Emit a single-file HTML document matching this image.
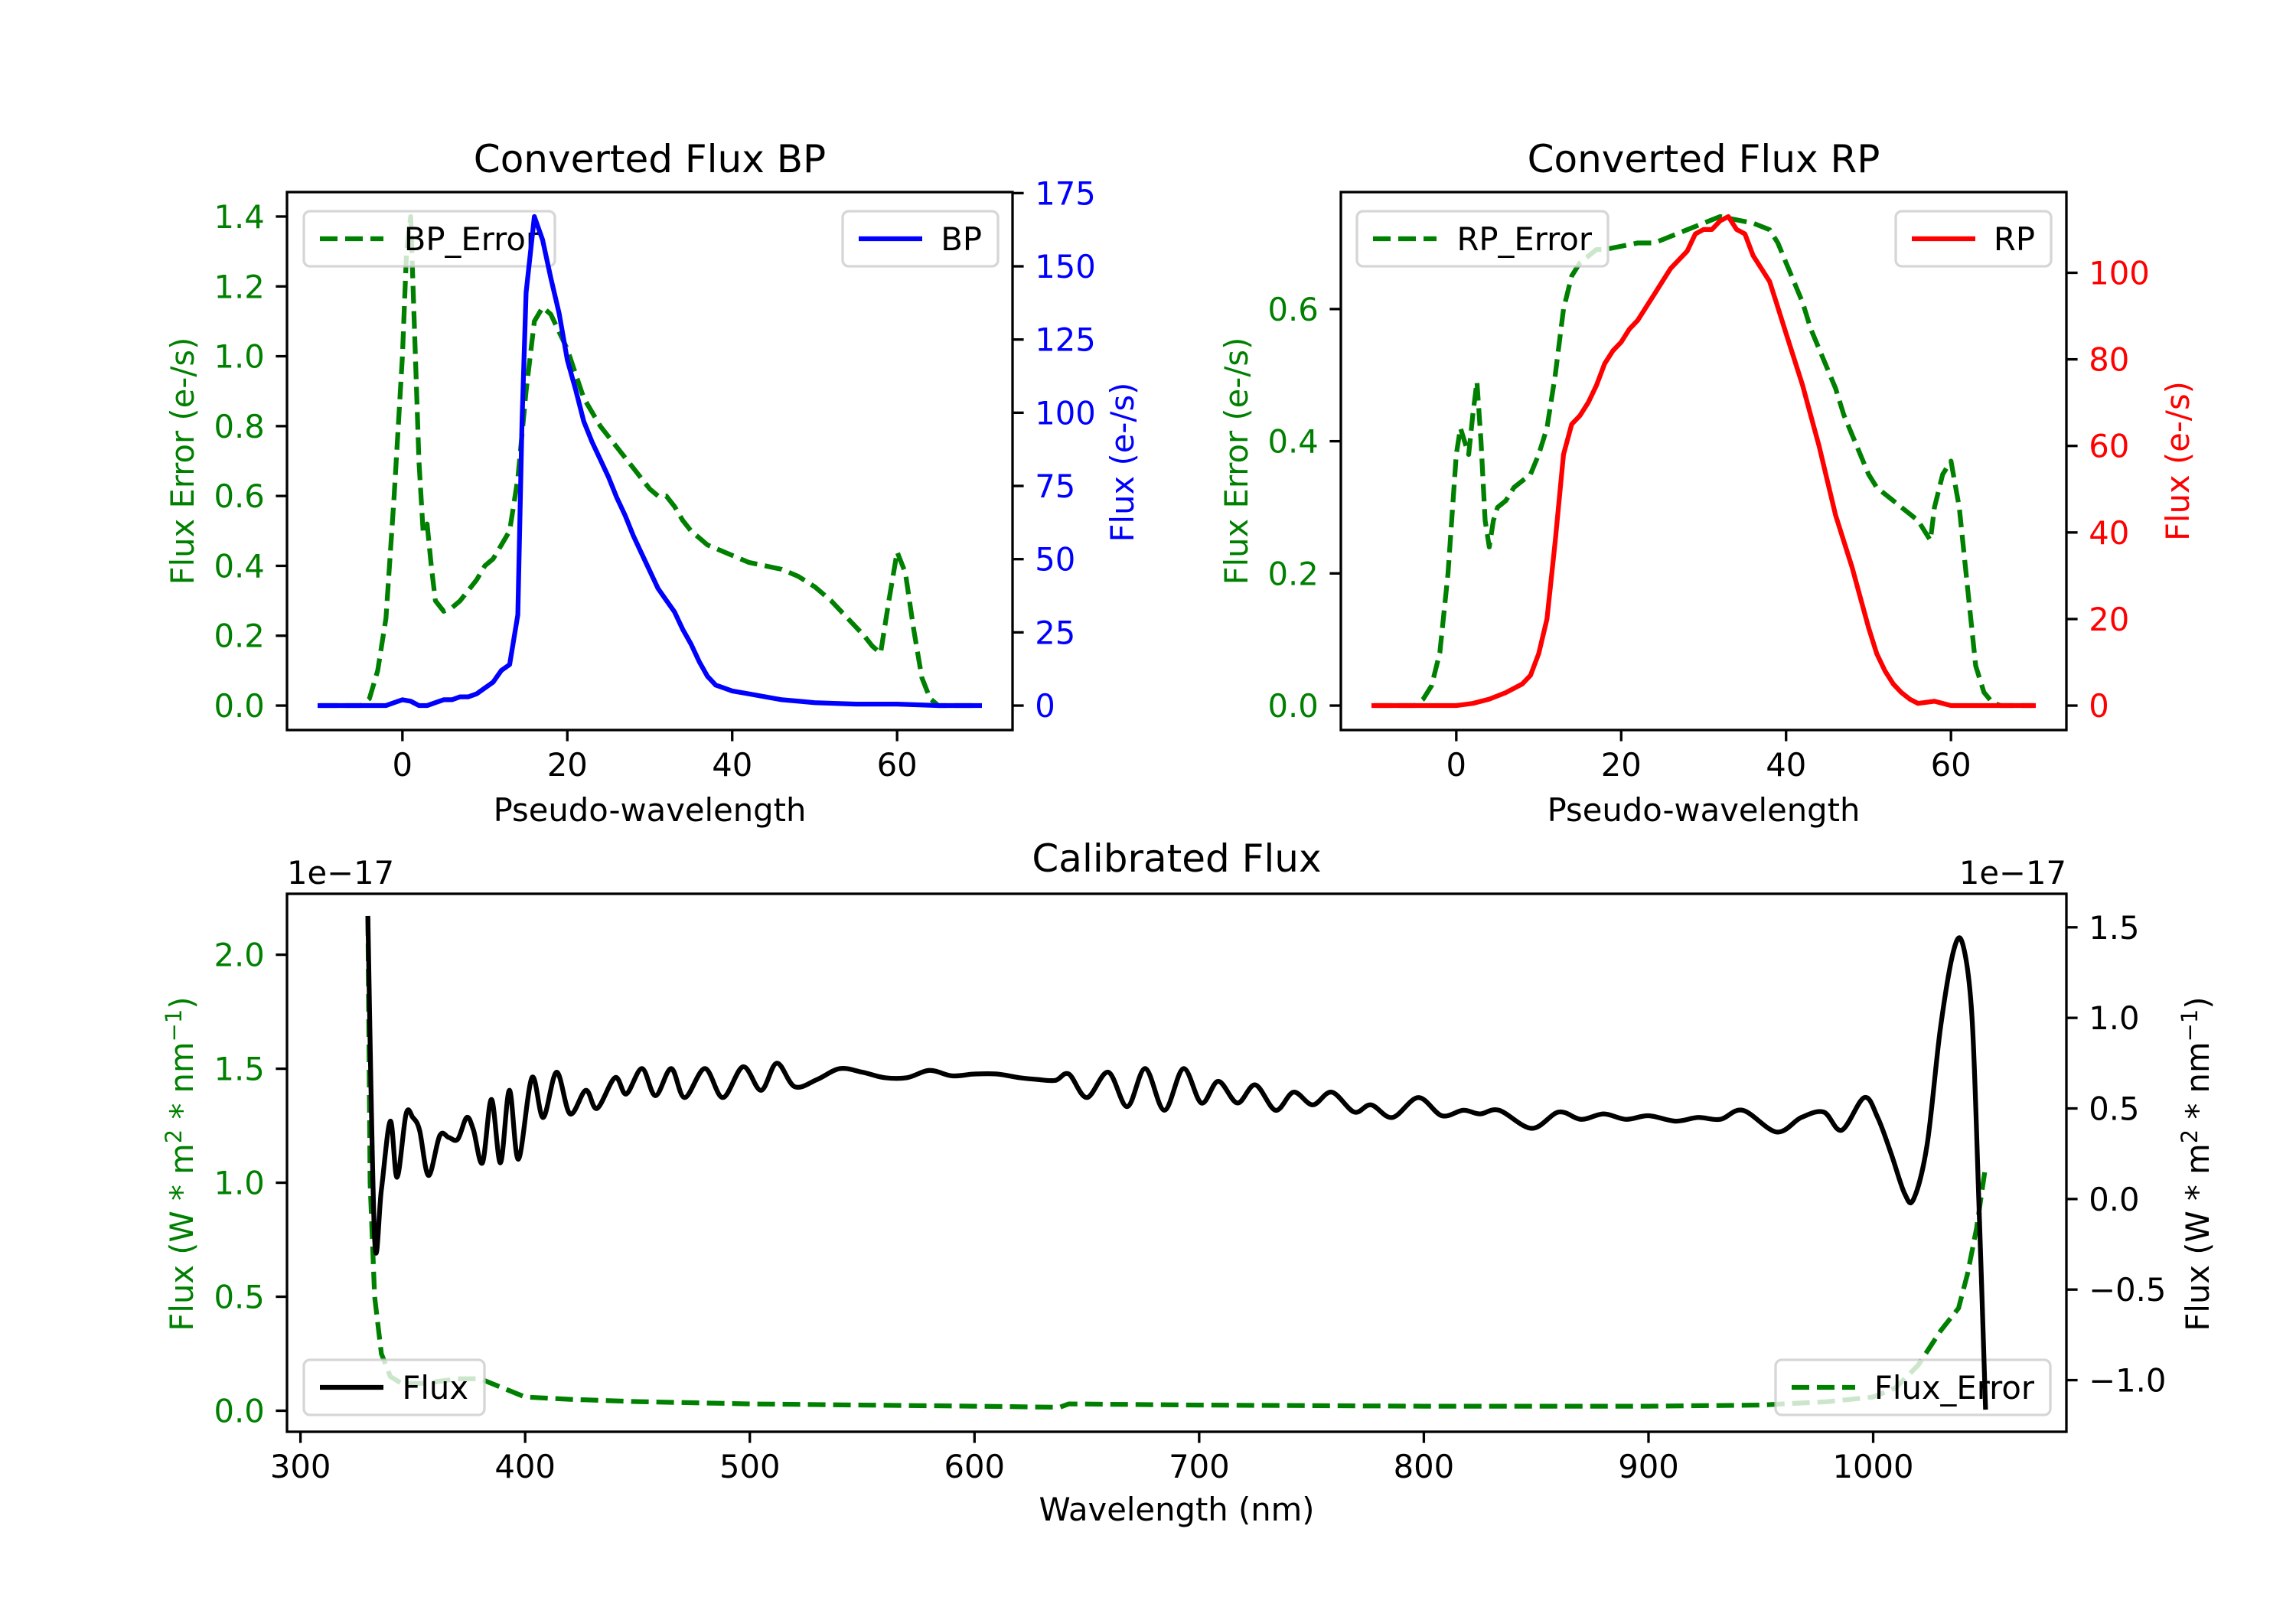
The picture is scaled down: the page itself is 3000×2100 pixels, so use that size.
<!DOCTYPE html>
<html><head><meta charset="utf-8">
<style>
html,body{margin:0;padding:0;background:#fff;}
svg{display:block;font-family:"DejaVu Sans","Liberation Sans",sans-serif;}
</style></head>
<body>
<svg id="fig" width="3000" height="2100" viewBox="0 0 3000 2100" xmlns="http://www.w3.org/2000/svg"></svg>
<script>
// ---------- BP panel data ----------
const bpErrX = [-10,-5,-4,-3,-2,-1,0,0.5,1,2,2.5,3,3.5,4,5,6,7,8,9,10,11,12,13,14,15,16,17,18,19,20,21,22,23,24,25,26,27,28,29,30,31,32,33,34,35,36,37,38,39,40,42,44,46,48,50,52,54,56,57,58,59,60,61,62,63,64,65,70];
const bpErrY = [0,0,0.02,0.1,0.25,0.6,1.0,1.3,1.4,0.7,0.5,0.52,0.4,0.3,0.27,0.28,0.3,0.33,0.36,0.4,0.42,0.46,0.5,0.65,0.9,1.1,1.14,1.12,1.07,1.02,0.95,0.88,0.84,0.8,0.77,0.74,0.71,0.68,0.65,0.62,0.6,0.6,0.57,0.53,0.5,0.48,0.46,0.45,0.44,0.43,0.41,0.4,0.39,0.37,0.34,0.3,0.25,0.2,0.17,0.15,0.3,0.44,0.38,0.22,0.08,0.02,0,0];
const bpX = [-10,-2,-1,0,1,2,3,4,5,6,7,8,9,10,11,12,13,14,14.5,15,16,17,18,19,20,21,22,23,24,25,26,27,28,29,30,31,32,33,34,35,36,37,38,39,40,42,44,46,48,50,55,60,65,70];
const bpY = [0,0,1,2,1.5,0,0,1,2,2,3,3,4,6,8,12,14,31,96,141,167,159,146,134,118,108,97,90,84,78,71,65,58,52,46,40,36,32,26,21,15,10,7,6,5,4,3,2,1.5,1,0.5,0.5,0,0];
const bpLeftTicks = [0.0,0.2,0.4,0.6,0.8,1.0,1.2,1.4];
const bpRightTicks = [0,25,50,75,100,125,150,175];
const pseudoTicks = [0,20,40,60];
// ---------- RP panel data ----------
const rpErrX = [-10,-5,-4,-3,-2,-1,0,0.5,1,1.5,2,2.5,3,3.5,4,4.5,5,6,7,8,9,10,11,12,13,14,15,16,17,18,20,22,24,26,28,30,32,34,36,37,38,39,40,41,42,43,44,45,46,47,48,49,50,51,52,53,54,55,56,57,57.5,58,59,60,61,62,63,64,65,66,70];
const rpErrY = [0,0,0.01,0.03,0.08,0.2,0.38,0.42,0.4,0.38,0.44,0.49,0.4,0.28,0.24,0.28,0.3,0.31,0.33,0.34,0.35,0.38,0.42,0.5,0.6,0.65,0.67,0.68,0.69,0.69,0.695,0.7,0.7,0.71,0.72,0.73,0.74,0.735,0.73,0.725,0.72,0.7,0.67,0.64,0.61,0.57,0.54,0.51,0.48,0.44,0.41,0.38,0.35,0.33,0.32,0.31,0.3,0.29,0.28,0.26,0.25,0.3,0.35,0.37,0.3,0.18,0.06,0.02,0.005,0,0];
const rpX = [-10,0,2,4,6,8,9,10,11,12,13,14,15,16,17,18,19,20,21,22,23,24,25,26,27,28,29,30,31,32,33,34,35,36,37,38,39,40,41,42,43,44,45,46,47,48,49,50,51,52,53,54,55,56,58,60,70];
const rpY = [0,0,0.5,1.5,3,5,7,12,20,38,58,65,67,70,74,79,82,84,87,89,92,95,98,101,103,105,109,110,110,112,113,110,109,104,101,98,92,86,80,74,67,60,52,44,38,32,25,18,12,8,5,3,1.5,0.5,1,0,0];
const rpLeftTicks = [0.0,0.2,0.4,0.6];
const rpRightTicks = [0,20,40,60,80,100];
// ---------- Calibrated panel data ----------
const calX = [330,333,336,340,343,347,350,353,357,362,366,370,374,377,381,385,389,393,397,403,408,414,420,427,432,440,445,452,458,465,471,480,488,497,505,512,520,530,540,550,560,570,580,590,600,610,620,
  628,636,642,650,659.5,668,676,684.5,693,701,708.5,717,725,734,742,750.5,759,769,776.5,786,797.5,808,817.5,825,833.5,848,860,
  870,880,890,900,912,922,932,942,957,968,978,986,996,1002,1008,1014,1018,1024,1030,1036,1040,1044,1047,1050];
const calFlux = [1.55,-0.22,0.05,0.43,0.12,0.47,0.45,0.38,0.13,0.35,0.34,0.33,0.45,0.38,0.2,0.55,0.2,0.6,0.22,0.67,0.45,0.7,0.47,0.6,0.5,0.67,0.58,0.72,0.57,0.72,0.56,0.72,0.56,0.73,0.6,0.75,0.62,0.66,0.72,0.7,0.67,0.67,0.71,0.68,0.69,0.69,0.67,
  0.66,0.655,0.69,0.56,0.70,0.51,0.72,0.49,0.72,0.53,0.65,0.53,0.63,0.49,0.59,0.52,0.59,0.48,0.52,0.45,0.56,0.46,0.49,0.47,0.49,0.39,0.48,
  0.44,0.47,0.44,0.46,0.43,0.45,0.44,0.49,0.37,0.45,0.48,0.38,0.56,0.45,0.25,0.03,0.0,0.3,0.95,1.38,1.4,1.0,0.0,-1.15];
const calErrX = [330,331,333,336,340,345,355,370,380,390,400,420,450,500,550,600,638,642,700,800,900,950,980,1000,1010,1020,1030,1038,1042,1046,1050];
const calErr = [2.16,1.0,0.5,0.25,0.15,0.12,0.12,0.14,0.14,0.1,0.06,0.05,0.04,0.03,0.025,0.02,0.015,0.03,0.025,0.02,0.02,0.025,0.04,0.06,0.1,0.2,0.35,0.45,0.6,0.8,1.07];
const calXTicks = [300,400,500,600,700,800,900,1000];
const calLeftTicks = [0.0,0.5,1.0,1.5,2.0];
const calRightTicks = [-1.0,-0.5,0.0,0.5,1.0,1.5];

const NS = "http://www.w3.org/2000/svg";
const svg = document.getElementById('fig');
const FS = 41.7, TL = 14.6, LW = 6.25;
const GREEN = '#008000';
function el(tag, attrs, parent){
  const e = document.createElementNS(NS, tag);
  for (const k in attrs) e.setAttribute(k, attrs[k]);
  (parent||svg).appendChild(e);
  return e;
}
function fmt(v, d){ const s = v.toFixed(d); return s.replace('-', '\u2212'); }
function dom(arr){ const mn=Math.min(...arr), mx=Math.max(...arr), m=(mx-mn)*0.05; return [mn-m, mx+m]; }
function scale(d, r){ return v => r[0] + (v-d[0])/(d[1]-d[0])*(r[1]-r[0]); }
function line(xs, ys, sx, sy, color, dashed, name, smooth){
  const P = xs.map((x,i)=>[sx(x), sy(ys[i])]);
  let d = 'M' + P[0][0].toFixed(1) + ' ' + P[0][1].toFixed(1);
  for (let i=1;i<P.length;i++){
    if (smooth){
      const p0 = P[Math.max(0,i-2)], p1 = P[i-1], p2 = P[i], p3 = P[Math.min(P.length-1,i+1)];
      const c1x = p1[0] + (p2[0]-p0[0])/6, c1y = p1[1] + (p2[1]-p0[1])/6;
      const c2x = p2[0] - (p3[0]-p1[0])/6, c2y = p2[1] - (p3[1]-p1[1])/6;
      d += 'C' + c1x.toFixed(1)+' '+c1y.toFixed(1)+' '+c2x.toFixed(1)+' '+c2y.toFixed(1)+' '+p2[0].toFixed(1)+' '+p2[1].toFixed(1);
    } else {
      d += 'L' + P[i][0].toFixed(1) + ' ' + P[i][1].toFixed(1);
    }
  }
  const p = el('path', {d:d, fill:'none', stroke:color, 'stroke-width':LW, 'stroke-linejoin':'round', 'stroke-linecap': dashed?'butt':'square'});
  if (dashed) p.setAttribute('stroke-dasharray', '23 10');
  
  
  return p;
}
function text(str, x, y, opts, name){
  const t = el('text', Object.assign({x:x, y:y, 'font-size':FS, fill:'#000'}, opts||{}));
  t.textContent = str;
  
  
  return t;
}
function yTicks(ticks, sy, x, side, color, dec, name){
  ticks.forEach(v=>{
    const y = sy(v);
    const dx = side==='left' ? -TL : TL;
    const tk = el('line', {x1:x, x2:x+dx, y1:y, y2:y, stroke:'#000', 'stroke-width':3.3});
    
    
    text(fmt(v,dec), side==='left' ? x-TL-14.6 : x+TL+14.6, y+15, {fill:color, 'text-anchor': side==='left'?'end':'start'}, name+'-label');
  });
}
function xTicks(ticks, sx, y, name){
  ticks.forEach(v=>{
    const x = sx(v);
    const tk = el('line', {x1:x, x2:x, y1:y, y2:y+TL, stroke:'#000', 'stroke-width':3.3});
    
    
    text(fmt(v,0), x, y+TL+14.6+31, {'text-anchor':'middle'}, name+'-label');
  });
}
function frame(x0,y0,x1,y1,name){
  const r = el('rect', {x:x0, y:y0, width:x1-x0, height:y1-y0, fill:'none', stroke:'#000', 'stroke-width':3.3});
  
  
}
function legend(x, y, w, label, color, dashed, name){
  const g = el('g', {});
  
  
  el('rect', {x:x, y:y, width:w, height:72, rx:8, fill:'rgba(255,255,255,0.8)', stroke:'rgba(204,204,204,0.8)', 'stroke-width':3.3}, g);
  const l = el('line', {x1:x+21, x2:x+104, y1:y+36, y2:y+36, stroke:color, 'stroke-width':LW}, g);
  if (dashed) l.setAttribute('stroke-dasharray', '23 10');
  const t = el('text', {x:x+w-21, y:y+51, 'font-size':FS, 'text-anchor':'end', fill:'#000'}, g);
  t.textContent = label;
}
function rotLabel(str, x, y, color, name){
  return text(str, x, y, {fill:color, 'text-anchor':'middle', transform:'rotate(-90 '+x+' '+y+')'}, name);
}

// ===== Panel BP =====
(function(){
  const x0=375,x1=1323,y0=251,y1=954;
  const sx = scale([-14,74],[x0,x1]);
  const syL = scale(dom(bpErrY),[y1,y0]);
  const syR = scale(dom(bpY),[y1,y0]);
  line(bpErrX, bpErrY, sx, syL, GREEN, true, 'bp-error-line');
  legend(397, 276, 328, 'BP_Error', GREEN, true, 'bp-error-legend');
  line(bpX, bpY, sx, syR, '#0000ff', false, 'bp-flux-line');
  legend(1101, 276, 203, 'BP', '#0000ff', false, 'bp-legend');
  frame(x0,y0,x1,y1,'bp-axes-frame');
  yTicks(bpLeftTicks, syL, x0, 'left', GREEN, 1, 'bp-left-y');
  yTicks(bpRightTicks, syR, x1, 'right', '#0000ff', 0, 'bp-right-y');
  xTicks(pseudoTicks, sx, y1, 'bp-x');
  text('Converted Flux BP', (x0+x1)/2, 225, {'font-size':50, 'text-anchor':'middle'}, 'bp-title');
  text('Pseudo-wavelength', (x0+x1)/2, 1073, {'text-anchor':'middle'}, 'bp-x-axis-title');
  rotLabel('Flux Error (e-/s)', 253, (y0+y1)/2, GREEN, 'bp-left-y-axis-title');
  rotLabel('Flux (e-/s)', 1481, 604, '#0000ff', 'bp-right-y-axis-title');
})();

// ===== Panel RP =====
(function(){
  const x0=1752,x1=2700,y0=251,y1=954;
  const sx = scale([-14,74],[x0,x1]);
  const syL = scale(dom(rpErrY),[y1,y0]);
  const syR = scale(dom(rpY),[y1,y0]);
  line(rpErrX, rpErrY, sx, syL, GREEN, true, 'rp-error-line');
  legend(1773, 276, 328, 'RP_Error', GREEN, true, 'rp-error-legend');
  line(rpX, rpY, sx, syR, '#ff0000', false, 'rp-flux-line');
  legend(2477, 276, 203, 'RP', '#ff0000', false, 'rp-legend');
  frame(x0,y0,x1,y1,'rp-axes-frame');
  yTicks(rpLeftTicks, syL, x0, 'left', GREEN, 1, 'rp-left-y');
  yTicks(rpRightTicks, syR, x1, 'right', '#ff0000', 0, 'rp-right-y');
  xTicks(pseudoTicks, sx, y1, 'rp-x');
  text('Converted Flux RP', (x0+x1)/2, 225, {'font-size':50, 'text-anchor':'middle'}, 'rp-title');
  text('Pseudo-wavelength', (x0+x1)/2, 1073, {'text-anchor':'middle'}, 'rp-x-axis-title');
  rotLabel('Flux Error (e-/s)', 1630, (y0+y1)/2, GREEN, 'rp-left-y-axis-title');
  rotLabel('Flux (e-/s)', 2860, (y0+y1)/2, '#ff0000', 'rp-right-y-axis-title');
})();

// ===== Calibrated panel =====
(function(){
  const x0=375,x1=2700,y0=1168,y1=1871;
  const sx = scale(dom(calX),[x0,x1]);
  const syL = scale(dom(calErr),[y1,y0]);
  const syR = scale(dom(calFlux),[y1,y0]);
  line(calErrX, calErr, sx, syL, GREEN, true, 'cal-error-line');
  legend(2320, 1777, 359, 'Flux_Error', GREEN, true, 'cal-error-legend');
  line(calX, calFlux, sx, syR, '#000', false, 'cal-flux-line', true);
  legend(397, 1777, 236, 'Flux', '#000', false, 'cal-flux-legend');
  frame(x0,y0,x1,y1,'cal-axes-frame');
  yTicks(calLeftTicks, syL, x0, 'left', GREEN, 1, 'cal-left-y');
  yTicks(calRightTicks, syR, x1, 'right', '#000', 1, 'cal-right-y');
  xTicks(calXTicks, sx, y1, 'cal-x');
  text('Calibrated Flux', (x0+x1)/2, 1139, {'font-size':50, 'text-anchor':'middle'}, 'cal-title');
  text('1e\u221217', x0, 1155, {}, 'cal-left-offset');
  text('1e\u221217', x1, 1155, {'text-anchor':'end'}, 'cal-right-offset');
  text('Wavelength (nm)', (x0+x1)/2, 1987, {'text-anchor':'middle'}, 'cal-x-axis-title');
  const l = rotLabel('', 252, 1521, GREEN, 'cal-left-y-axis-title');
  l.innerHTML = 'Flux (W * m<tspan dy="-15" font-size="29">2</tspan><tspan dy="15"> * nm</tspan><tspan dy="-15" font-size="29">\u22121</tspan><tspan dy="15">)</tspan>';
  const r = rotLabel('', 2886, 1521, '#000', 'cal-right-y-axis-title');
  r.innerHTML = 'Flux (W * m<tspan dy="-15" font-size="29">2</tspan><tspan dy="15"> * nm</tspan><tspan dy="-15" font-size="29">\u22121</tspan><tspan dy="15">)</tspan>';
})();
</script>
</body></html>
